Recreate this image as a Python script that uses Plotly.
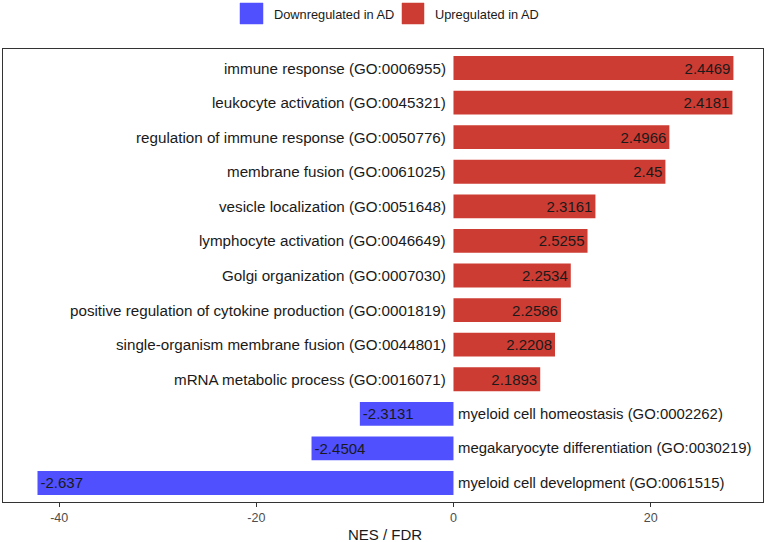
import plotly.graph_objects as go

categories = [
    "immune response (GO:0006955)",
    "leukocyte activation (GO:0045321)",
    "regulation of immune response (GO:0050776)",
    "membrane fusion (GO:0061025)",
    "vesicle localization (GO:0051648)",
    "lymphocyte activation (GO:0046649)",
    "Golgi organization (GO:0007030)",
    "positive regulation of cytokine production (GO:0001819)",
    "single-organism membrane fusion (GO:0044801)",
    "mRNA metabolic process (GO:0016071)",
    "myeloid cell homeostasis (GO:0002262)",
    "megakaryocyte differentiation (GO:0030219)",
    "myeloid cell development (GO:0061515)",
]
nes = [2.4469, 2.4181, 2.4966, 2.45, 2.3161, 2.5255, 2.2534, 2.2586, 2.2208,
       2.1893, -2.3131, -2.4504, -2.637]
nes_fdr = [28.4, 28.3, 21.9, 21.5, 14.4, 13.6, 11.9, 10.9, 10.3, 8.8,
           -9.5, -14.4, -42.2]
x_ticks = [-40, -20, 0, 20]

BLUE = "#5050FF"
RED = "#CD3C33"
TXT = "#1a1a1a"
FONT = "Liberation Sans, Arial, sans-serif"

W, H = 770, 542
ML, MR, MT, MB = 3, 7, 49, 40
pw = W - ML - MR
ph = H - MT - MB

fig = go.Figure()
down_idx = [i for i, v in enumerate(nes_fdr) if v < 0]
up_idx = [i for i, v in enumerate(nes_fdr) if v >= 0]
for idx, col, name in [(down_idx, BLUE, "Downregulated in AD"),
                       (up_idx, RED, "Upregulated in AD")]:
    fig.add_trace(go.Bar(
        x=[nes_fdr[i] for i in idx],
        y=[categories[i] for i in idx],
        orientation="h",
        name=name,
        marker=dict(color=col, line=dict(width=0)),
        width=0.69,
        text=[str(nes[i]) for i in idx],
        textposition="inside",
        insidetextanchor="end",
        textfont=dict(family=FONT, size=15, color=TXT),
        showlegend=False,
        hoverinfo="x+y",
    ))

annotations = []
for c, v in zip(categories, nes_fdr):
    annotations.append(dict(
        x=0, y=c, xref="x", yref="y", text=c, showarrow=False,
        xanchor="right" if v >= 0 else "left",
        xshift=-5 if v >= 0 else 3,
        font=dict(family=FONT, size=15.2 if v >= 0 else 14.9, color=TXT),
    ))

# custom legend and axis title placement
def px2x(px):
    return (px - ML) / pw

def py2y(py):
    return (MT + ph - py) / ph

shapes = []
legend_items = [(BLUE, "Downregulated in AD", 240, 263),
                (RED, "Upregulated in AD", 402, 424)]
for col, name, x0, x1 in legend_items:
    shapes.append(dict(type="rect", xref="paper", yref="paper",
                       x0=px2x(x0), x1=px2x(x1), y0=py2y(24), y1=py2y(3),
                       fillcolor=col, line=dict(color=col, width=0.5)))
    annotations.append(dict(x=px2x(x1 + 9), y=py2y(14), xref="paper",
                            yref="paper", text=name, showarrow=False,
                            xanchor="left", yanchor="middle",
                            font=dict(family=FONT, size=12.8, color=TXT)))

annotations.append(dict(x=0.5 * (px2x(347) + px2x(422)), y=py2y(534),
                        xref="paper", yref="paper", text="NES / FDR",
                        showarrow=False, xanchor="center", yanchor="middle",
                        font=dict(family=FONT, size=15, color=TXT)))

fig.update_layout(
    width=W, height=H,
    margin=dict(l=ML, r=MR, t=MT, b=MB, autoexpand=False),
    plot_bgcolor="white", paper_bgcolor="white",
    barmode="overlay",
    annotations=annotations,
    shapes=shapes,
    xaxis=dict(
        range=[-45.7, 31.4],
        tickvals=x_ticks,
        ticktext=[str(t) for t in x_ticks],
        ticks="outside", ticklen=4, tickcolor="#333333",
        tickfont=dict(family=FONT, size=12.5, color="#4d4d4d"),
        showgrid=False, zeroline=False, automargin=False,
        showline=True, linecolor="#333333", linewidth=1, mirror=True,
    ),
    yaxis=dict(
        categoryorder="array",
        categoryarray=categories[::-1],
        range=[-0.55, len(categories) - 0.45],
        showticklabels=False, ticks="", automargin=False,
        showgrid=False, zeroline=False,
        showline=True, linecolor="#333333", linewidth=1, mirror=True,
    ),
)

fig.write_html("out.html",
               config={"displayModeBar": False},
               post_script="document.body.style.margin='0px';"
                           "document.body.style.overflow='hidden';")
